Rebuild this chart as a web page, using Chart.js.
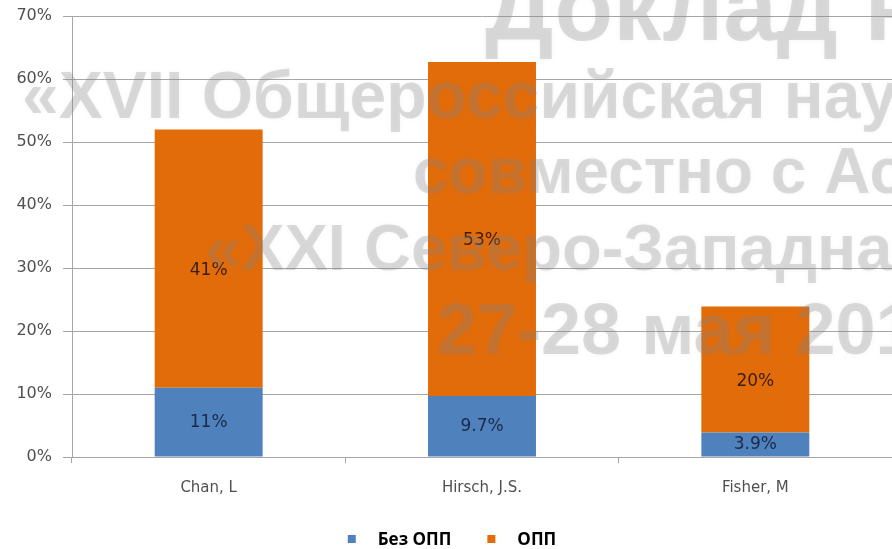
<!DOCTYPE html>
<html>
<head>
<meta charset="utf-8">
<script src="https://cdn.jsdelivr.net/npm/chart.js@4"></script>
<style>
  html, body { margin: 0; padding: 0; background: #fff; }
  #wrap { width: 892px; height: 549px; position: relative; }
</style>
</head>
<body>
<div id="wrap"><canvas id="chart"></canvas></div>
<script>
// Data
const categories = ['Chan, L', 'Hirsch, J.S.', 'Fisher, M'];
const seriesNames = ['Без ОПП', 'ОПП'];
const withoutOpp = [11, 9.7, 3.9];
const withOpp = [41, 53, 20];
const yMax = 70;
const yStep = 10;

// Watermark lines drawn over the plot
const watermark = [
    { text: 'Доклад на', x: 485, y: 40, size: 96 },
    { text: '«XVII Общероссийская научно', x: 22, y: 118, size: 66 },
    { text: 'совместно с Ассоциацией', x: 413, y: 193, size: 64 },
    { text: '«XXI Северо-Западная', x: 205, y: 270, size: 65 },
    { text: '27-28 мая 2019', x: 437, y: 354, size: 72 }
];

const BLUE = '#4F81BD';
const ORANGE = '#E36C0A';
const AXIS_GRAY = '#a6a6a6';
const TEXT_GRAY = '#505050';
const FONT = '"DejaVu Sans", sans-serif';
const LEGEND_FONT = 'bold 17px "Open Sans", sans-serif';

// value labels inside each segment
const barLabels = {
    id: 'barLabels',
    afterDatasetsDraw(chart) {
        const ctx = chart.ctx;
        ctx.save();
        ctx.font = '17px ' + FONT;
        ctx.textAlign = 'center';
        ctx.textBaseline = 'middle';
        chart.data.datasets.forEach((ds, i) => {
            const meta = chart.getDatasetMeta(i);
            ctx.fillStyle = i === 0 ? '#1b2a4a' : '#3b1d08';
            const shift = i === 0 ? 0 : 12;
            meta.data.forEach((bar, j) => {
                const mid = (bar.y + bar.base) / 2 + shift;
                ctx.fillText(ds.data[j] + '%', bar.x, mid);
            });
        });
        ctx.restore();
    }
};

// legend row under the axis labels
const bottomLegend = {
    id: 'bottomLegend',
    afterDraw(chart) {
        const ctx = chart.ctx;
        const box = 8, gap = 22, itemGap = 36, cy = 540;
        ctx.save();
        ctx.font = LEGEND_FONT;
        ctx.textBaseline = 'middle';
        const items = chart.data.datasets.map(ds => ({
            text: ds.label, color: ds.backgroundColor, w: ctx.measureText(ds.label).width
        }));
        const total = items.reduce((s, it) => s + box + gap + it.w, 0) + itemGap * (items.length - 1);
        let x = chart.width / 2 + 6 - total / 2;
        items.forEach(it => {
            ctx.fillStyle = it.color;
            ctx.fillRect(x, cy - box / 2 - 1, box, box);
            x += box + gap;
            ctx.fillStyle = '#000';
            ctx.fillText(it.text, x, cy);
            x += it.w + itemGap;
        });
        ctx.restore();
    }
};

const overlayText = {
    id: 'overlayText',
    afterDraw(chart) {
        const ctx = chart.ctx;
        ctx.save();
        ctx.textAlign = 'left';
        ctx.textBaseline = 'alphabetic';
        ctx.fillStyle = 'rgba(128,128,128,0.27)';
        ctx.shadowColor = 'rgba(128,128,128,0.3)';
        ctx.shadowBlur = 4;
        watermark.forEach(w => {
            ctx.font = 'bold ' + w.size + 'px "Liberation Sans", Arial, sans-serif';
            ctx.fillText(w.text, w.x, w.y);
        });
        ctx.restore();
    }
};

const ctx = document.getElementById('chart').getContext('2d');
new Chart(ctx, {
    type: 'bar',
    data: {
        labels: categories,
        datasets: [
            { label: seriesNames[0], data: withoutOpp, backgroundColor: BLUE },
            { label: seriesNames[1], data: withOpp, backgroundColor: ORANGE }
        ]
    },
    options: {
        responsive: true,
        maintainAspectRatio: false,
        animation: false,
        layout: { padding: { top: 16, right: 0, bottom: 0, left: 0 } },
        datasets: { bar: { categoryPercentage: 1, barPercentage: 0.395 } },
        scales: {
            x: {
                stacked: true,
                grid: { drawOnChartArea: false, drawTicks: true, tickLength: 6, color: AXIS_GRAY, offset: true },
                border: { display: true, color: AXIS_GRAY },
                ticks: { color: TEXT_GRAY, font: { family: FONT, size: 15 }, padding: 16 },
                afterFit: s => { s.height = 92; }
            },
            y: {
                stacked: true,
                min: 0,
                max: yMax,
                ticks: { stepSize: yStep, color: TEXT_GRAY, font: { family: FONT, size: 16 }, padding: 11,
                         callback: v => v + '%' },
                grid: { color: AXIS_GRAY, tickLength: 9 },
                border: { display: true, color: AXIS_GRAY },
                afterFit: s => { s.width = 72; s.paddingTop = 0; s.paddingBottom = 0; }
            }
        },
        plugins: {
            legend: { display: false },
            tooltip: { enabled: false }
        }
    },
    plugins: [barLabels, bottomLegend, overlayText]
});
</script>
</body>
</html>
